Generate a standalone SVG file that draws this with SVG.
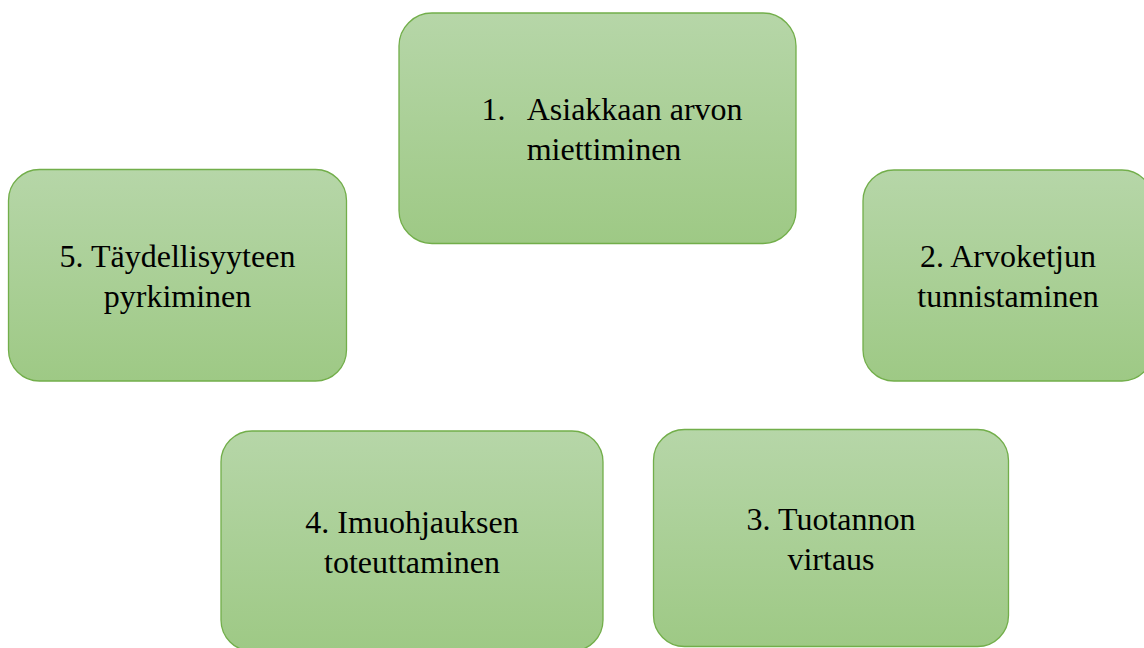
<svg xmlns="http://www.w3.org/2000/svg" width="1144" height="648" viewBox="0 0 1144 648">
  <defs>
    <linearGradient id="g" x1="0" y1="0" x2="0" y2="1">
      <stop offset="0" stop-color="#b6d6a8"/>
      <stop offset="1" stop-color="#9ec985"/>
    </linearGradient>
  </defs>
  <style>
    .box { fill: url(#g); stroke: #72ae4a; stroke-width: 1.3; }
    .t { font-family: "Liberation Serif", "Times New Roman", serif; font-size: 32px; fill: #000; }
    .c { text-anchor: middle; }
  </style>
  <rect width="1144" height="648" fill="#ffffff"/>
  <g id="connectors"></g>
  <g id="node1">
    <rect class="box" x="399" y="13" width="397" height="230.5" rx="33" ry="33"/>
    <text class="t" x="481.5" y="120">1.</text>
    <text class="t" x="526.7" y="120">Asiakkaan arvon</text>
    <text class="t" x="526.7" y="160">miettiminen</text>
  </g>
  <g id="node2">
    <rect class="box" x="863" y="170" width="290" height="211" rx="31" ry="31"/>
    <text class="t c" x="1008" y="266.5">2. Arvoketjun</text>
    <text class="t c" x="1008" y="306.8">tunnistaminen</text>
  </g>
  <g id="node3">
    <rect class="box" x="653.5" y="429.5" width="355" height="217" rx="31" ry="31"/>
    <text class="t c" x="831" y="530">3. Tuotannon</text>
    <text class="t c" x="831" y="570">virtaus</text>
  </g>
  <g id="node4">
    <rect class="box" x="221" y="431" width="382" height="220" rx="31" ry="31"/>
    <text class="t c" x="412" y="533.3">4. Imuohjauksen</text>
    <text class="t c" x="412" y="573.3">toteuttaminen</text>
  </g>
  <g id="node5">
    <rect class="box" x="8.5" y="169.5" width="338" height="211.5" rx="31" ry="31"/>
    <text class="t c" x="177.5" y="266.7">5. Täydellisyyteen</text>
    <text class="t c" x="177.5" y="306.7">pyrkiminen</text>
  </g>
</svg>
